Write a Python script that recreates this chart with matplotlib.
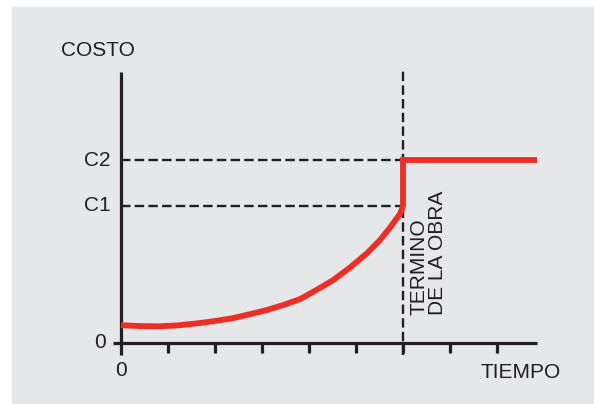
import numpy as np
import matplotlib
matplotlib.use("Agg")
import matplotlib.pyplot as plt
from matplotlib.patches import Rectangle

plt.rcParams['font.family'] = ['Liberation Sans', 'DejaVu Sans']

# cost curve (time units, cost units where C1 = 3, C2 = 4)
curve_t = [0.0, 0.4, 0.8, 1.2, 1.68, 2.04, 2.39, 2.74, 3.10, 3.45, 3.81, 4.16,
           4.52, 4.87, 5.23, 5.51, 5.72, 5.94, 6.0]
curve_c = [0.39, 0.37, 0.365, 0.385, 0.436, 0.487, 0.545, 0.63, 0.72, 0.83, 0.96, 1.16,
           1.38, 1.65, 1.96, 2.25, 2.52, 2.83, 3.0]
t_end = 6.0
t_max = 8.85
c1, c2 = 3.0, 4.0
tick_t = [0, 1, 2, 3, 4, 5, 6, 7, 8]
ylabels = ['0', 'C1', 'C2']
yvals = [0.0, c1, c2]

red = '#ee2e24'
ink = '#231f20'

fig = plt.figure(figsize=(5.94, 4.04), dpi=100)
fig.patch.set_facecolor('white')
ax = fig.add_axes([0, 0, 1, 1])
ax.set_axis_off()
ax.patch.set_alpha(0)
ax.set_xlim(-2.574, 10.064)
ax.set_ylim(-1.335, 7.505)
ax.add_patch(Rectangle((12 / 594, 0), 1 - 12 / 594, 397 / 404,
                       transform=ax.transAxes, color='#e6e7e8', zorder=0))

# axes
ax.plot([0, 0], [-0.26, 5.93], color=ink, lw=2.3, solid_capstyle='butt')
ax.plot([-0.17, t_max], [0, 0], color=ink, lw=2.3, solid_capstyle='butt')
for t in tick_t[1:]:
    ax.plot([t, t], [0, -0.22], color=ink, lw=2.3, solid_capstyle='butt')

# dashed guides
for c in [c1, c2]:
    ax.plot([0, t_end], [c, c], color=ink, lw=1.7, ls=(0, (4, 1.8)))
ax.plot([t_end, t_end], [-0.26, 6.02], color=ink, lw=1.7, ls=(0, (4, 1.8)))

# cost curve
ax.plot(curve_t, curve_c, color=red, lw=4.2, solid_capstyle='butt',
        solid_joinstyle='round')
ax.plot([t_end, t_end, t_max], [c1 - 0.02, c2, c2], color=red, lw=4.2,
        solid_joinstyle='miter', solid_capstyle='butt')

for lab, v in zip(ylabels, yvals):
    ax.text(-0.22 if lab != '0' else -0.33, v, lab, ha='right', va='center', fontsize=15, color=ink)
ax.text(0, -0.4, '0', ha='center', va='top', fontsize=15, color=ink)
ax.text(8.5, -0.43, 'TIEMPO', ha='center', va='top', fontsize=15, color=ink)
ax.text(-0.5, 6.4, 'COSTO', ha='center', va='center', fontsize=15, color=ink)
ax.text(6.14, 0.62, 'TERMINO\nDE LA OBRA', rotation=90, ha='left', va='bottom',
        multialignment='left', fontsize=15, color=ink, linespacing=0.95)

fig.savefig('out.png', dpi=100)
